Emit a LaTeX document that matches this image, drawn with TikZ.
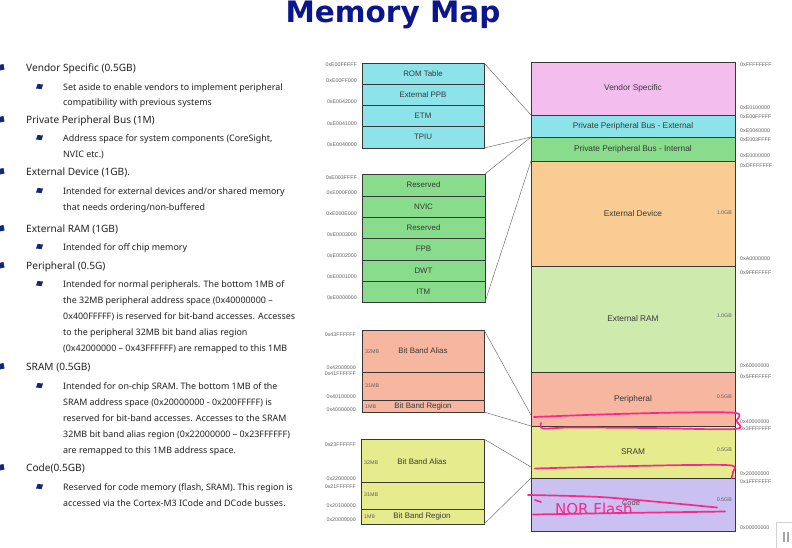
\documentclass[tikz,border=0pt]{standalone}
\usepackage{fontspec}
\setmainfont{Liberation Sans}
\newfontfamily\bodyfont{Noto Sans}
\newfontfamily\titlefont{DejaVu Sans}
\usetikzlibrary{calc}

\definecolor{cVendor}{RGB}{243,190,238}
\definecolor{cPPBext}{RGB}{140,228,234}
\definecolor{cPPBint}{RGB}{136,220,140}
\definecolor{cExtDev}{RGB}{248,204,146}
\definecolor{cExtRAM}{RGB}{206,234,172}
\definecolor{cPeriph}{RGB}{246,182,160}
\definecolor{cSRAM}{RGB}{230,236,142}
\definecolor{cCode}{RGB}{202,192,242}
\definecolor{navy}{RGB}{12,22,140}
\definecolor{bulnavy}{RGB}{20,40,120}
\definecolor{inkpink}{RGB}{250,40,140}
\definecolor{bodytext}{RGB}{34,34,34}

\newcommand\lvlA[3]{%
  \fill[bulnavy] (-1.5,#2-6.5) -- (3.5,#2-7.5) -- (4.5,#2-2) -- (-0.5,#2-1) -- cycle;
  \node[tA] (#1) at (26,#2) {#3};}
\newcommand\lvlB[3]{%
  \fill[bulnavy] (36,#2-1.5) -- (37.5,#2-6) -- (43,#2-5.5) -- (41.5,#2-1) -- cycle;
  \node[tB] (#1) at (63,#2) {#3};}
\newcommand\lvlC[3]{\node[tB] (#1) at (63,#2) {#3};}

\begin{document}
\begin{tikzpicture}[x=1pt,y=-1pt,
  reg/.style={draw=black!78, line width=0.6pt, inner sep=0pt, outer sep=0pt,
    anchor=north west, font=\fontsize{8.3}{9}\selectfont, text=black!78},
  sub/.style={reg, font=\fontsize{7.9}{9}\selectfont},
  addr/.style={font=\fontsize{5.3}{6}\selectfont, text=black!62, inner sep=0pt},
  conn/.style={draw=black!55, line width=0.5pt},
  ink/.style={draw=inkpink, line width=1.7pt, line cap=round, line join=round},
  tA/.style={anchor=base west, inner sep=0pt, text=bodytext, font=\bodyfont\fontsize{10.1}{11}\selectfont},
  tB/.style={anchor=base west, inner sep=0pt, text=bodytext, font=\bodyfont\fontsize{8.9}{10}\selectfont}]
\useasboundingbox (0,0) rectangle (792,547);
\fill[white] (0,0) rectangle (792,547);

% title
\node[anchor=base, inner sep=0pt, text=navy, font=\titlefont\bfseries\fontsize{29.5}{30}\selectfont] (title) at (393,22.5) {Memory Map};

% ---------------- left text ----------------
\lvlA{a1}{71.5}{Vendor Specific (0.5GB)}
\lvlB{b1}{90}{Set aside to enable vendors to implement peripheral}
\lvlC{c1}{105}{compatibility with previous systems}
\lvlA{a2}{123.5}{Private Peripheral Bus (1M)}
\lvlB{b2}{141}{Address space for system components (CoreSight,}
\lvlC{c2}{157}{NVIC etc.)}
\lvlA{a3}{175.5}{External Device (1GB).}
\lvlB{b3}{194}{Intended for external devices and/or shared memory}
\lvlC{c3}{210}{that needs ordering/non-buffered}
\lvlA{a4}{232.5}{External RAM (1GB)}
\lvlB{b4}{250}{Intended for off chip memory}
\lvlA{a5}{269.5}{Peripheral (0.5G)}
\lvlB{b5}{287}{Intended for normal peripherals. The bottom 1MB of}
\lvlC{c5a}{303}{the 32MB peripheral address space (0x40000000 –}
\lvlC{c5b}{319}{0x400FFFFF) is reserved for bit-band accesses. Accesses}
\lvlC{c5c}{335}{to the peripheral 32MB bit band alias region}
\lvlC{c5d}{351}{(0x42000000 – 0x43FFFFFF) are remapped to this 1MB}
\lvlA{a6}{370.5}{SRAM (0.5GB)}
\lvlB{b6}{389}{Intended for on-chip SRAM. The bottom 1MB of the}
\lvlC{c6a}{405}{SRAM address space (0x20000000 - 0x200FFFFF) is}
\lvlC{c6b}{421}{reserved for bit-band accesses. Accesses to the SRAM}
\lvlC{c6c}{437}{32MB bit band alias region (0x22000000 – 0x23FFFFFF)}
\lvlC{c6d}{453}{are remapped to this 1MB address space.}
\lvlA{a7}{471.5}{Code(0.5GB)}
\lvlB{b7}{490}{Reserved for code memory (flash, SRAM). This region is}
\lvlC{c7}{506}{accessed via the Cortex-M3 ICode and DCode busses.}

% ---------------- main map ----------------
\node[reg, fill=cVendor, minimum width=204pt, minimum height=53pt] (vendor) at (531,62) {Vendor Specific};
\node[reg, fill=cPPBext, minimum width=204pt, minimum height=22pt] (ppbext) at (531,115) {Private Peripheral Bus - External};
\node[reg, fill=cPPBint, minimum width=204pt, minimum height=24pt] (ppbint) at (531,137) {Private Peripheral Bus - Internal};
\node[reg, fill=cExtDev, minimum width=204pt, minimum height=105pt] (extdev) at (531,161) {External Device};
\node[reg, fill=cExtRAM, minimum width=204pt, minimum height=106pt] (extram) at (531,266) {External RAM};
\node[reg, fill=cPeriph, minimum width=204pt, minimum height=54pt] (periph) at (531,372) {Peripheral};
\node[reg, fill=cSRAM, minimum width=204pt, minimum height=52pt] (sram) at (531,426) {SRAM};
\node[reg, fill=cCode, minimum width=204pt, minimum height=53pt] (code) at (531,478) {};
\node[inner sep=0pt, font=\fontsize{7.5}{9}\selectfont, text=black!70] (codet) at (631,503) {Code};

\node[addr, anchor=east] (gb1) at (732,213) {1.0GB};
\node[addr, anchor=east] (gb2) at (732,316) {1.0GB};
\node[addr, anchor=east] (gb3) at (732,397) {0.5GB};
\node[addr, anchor=east] (gb4) at (732,450) {0.5GB};
\node[addr, anchor=east] (gb5) at (732,500) {0.5GB};

% right addresses
\foreach \y/\t [count=\i] in {65/0xFFFFFFFF,108/0xE0100000,117/0xE00FFFFF,131/0xE0040000,140/0xE003FFFF,156/0xE0000000,166/0xDFFFFFFF,259/0xA0000000,273/0x9FFFFFFF,366/0x60000000,377/0x5FFFFFFF,422/0x40000000,429/0x3FFFFFFF,474/0x20000000,482/0x1FFFFFFF,528/0x00000000}
  \node[addr, anchor=west] (ra\i) at (740,\y) {\t};

% ---------------- PPB external detail ----------------
\node[sub, fill=cPPBext, minimum width=122pt, minimum height=21pt] (rom) at (362,63) {ROM Table};
\node[sub, fill=cPPBext, minimum width=122pt, minimum height=21pt] (extppb) at (362,84) {External PPB};
\node[sub, fill=cPPBext, minimum width=122pt, minimum height=21pt] (etm) at (362,105) {ETM};
\node[sub, fill=cPPBext, minimum width=122pt, minimum height=22pt] (tpiu) at (362,126) {TPIU};
\foreach \y/\t [count=\i] in {65/0xE00FFFFF,81/0xE00FF000,102/0xE0042000,124/0xE0041000,145/0xE0040000}
  \node[addr, anchor=east] (la\i) at (357,\y) {\t};

% ---------------- PPB internal detail ----------------
\node[sub, fill=cPPBint, minimum width=123pt, minimum height=22pt] (res1) at (362,174) {Reserved};
\node[sub, fill=cPPBint, minimum width=123pt, minimum height=21pt] (nvic) at (362,196) {NVIC};
\node[sub, fill=cPPBint, minimum width=123pt, minimum height=21pt] (res2) at (362,217) {Reserved};
\node[sub, fill=cPPBint, minimum width=123pt, minimum height=22pt] (fpb) at (362,238) {FPB};
\node[sub, fill=cPPBint, minimum width=123pt, minimum height=21pt] (dwt) at (362,260) {DWT};
\node[sub, fill=cPPBint, minimum width=123pt, minimum height=21pt] (itm) at (362,281) {ITM};
\foreach \y/\t [count=\i] in {178/0xE003FFFF,193/0xE000F000,214/0xE000E000,235/0xE0003000,256/0xE0002000,277/0xE0001000,298/0xE0000000}
  \node[addr, anchor=east] (lb\i) at (357,\y) {\t};

% ---------------- Peripheral bit band ----------------
\node[sub, fill=cPeriph, minimum width=122pt, minimum height=42pt] (pba) at (362,330) {};
\node[sub, fill=cPeriph, minimum width=122pt, minimum height=28pt] (p31) at (362,372) {};
\node[sub, fill=cPeriph, minimum width=122pt, minimum height=12pt] (pbr) at (362,400) {};
\node[inner sep=0pt, font=\fontsize{7.9}{9}\selectfont, text=black!78] (pbat) at (423,351) {Bit Band Alias};
\node[inner sep=0pt, font=\fontsize{7.9}{9}\selectfont, text=black!78] (pbrt) at (423,406.5) {Bit Band Region};
\node[addr, anchor=west] (pm1) at (365,352) {32MB};
\node[addr, anchor=west] (pm2) at (365,386) {31MB};
\node[addr, anchor=west] (pm3) at (365,406.5) {1MB};
\foreach \y/\t [count=\i] in {335/0x43FFFFFF,368/0x42000000,374/0x41FFFFFF,397/0x40100000,410/0x40000000}
  \node[addr, anchor=east] (lc\i) at (356,\y) {\t};

% ---------------- SRAM bit band ----------------
\node[sub, fill=cSRAM, minimum width=123pt, minimum height=43pt] (sba) at (361,439) {};
\node[sub, fill=cSRAM, minimum width=123pt, minimum height=27pt] (s31) at (361,482) {};
\node[sub, fill=cSRAM, minimum width=123pt, minimum height=15pt] (sbr) at (361,509) {};
\node[inner sep=0pt, font=\fontsize{7.9}{9}\selectfont, text=black!78] (sbat) at (422,462) {Bit Band Alias};
\node[inner sep=0pt, font=\fontsize{7.9}{9}\selectfont, text=black!78] (sbrt) at (422,516.5) {Bit Band Region};
\node[addr, anchor=west] (sm1) at (364,463) {32MB};
\node[addr, anchor=west] (sm2) at (364,495) {31MB};
\node[addr, anchor=west] (sm3) at (364,516.5) {1MB};
\foreach \y/\t [count=\i] in {445/0x23FFFFFF,479/0x22000000,487/0x21FFFFFF,506/0x20100000,520/0x20000000}
  \node[addr, anchor=east] (ld\i) at (356,\y) {\t};

% ---------------- connectors ----------------
\coordinate (pbhi) at (531,415);
\coordinate (sbhi) at (531,467);
\draw[conn] (rom.north east) -- (ppbext.north west);
\draw[conn] (tpiu.south east) -- (ppbext.south west);
\draw[conn] (res1.north east) -- (ppbint.north west);
\draw[conn] (itm.south east) -- (ppbint.south west);
\draw[conn] (pba.north east) -- (pbhi);
\draw[conn] (pbr.south east) -- (periph.south west);
\draw[conn] (sba.north east) -- (sbhi);
\draw[conn] (sbr.south east) -- (sram.south west);

% ---------------- pink annotations ----------------
\draw[ink] plot[smooth, tension=0.5] coordinates {(534,417) (600,414.5) (680,412.5) (736,413) (736.5,421) (735,429) (650,428) (570,427.5) (543,428.5) (541,423)};
\draw[ink] plot[smooth, tension=0.5] coordinates {(535,468.5) (610,466.5) (690,465) (732,465.5) (733,472) (731.5,478)};
\draw[ink] plot[smooth, tension=0.5] coordinates {(528,495) (600,497) (670,503) (717,507.5)};
\draw[ink] plot[smooth, tension=0.5] coordinates {(533,514.5) (620,513) (725,511.5)};
\draw[ink] (535,500) -- (541,502);
\node[inner sep=0pt, anchor=base west, text=inkpink, font=\titlefont\fontsize{15}{16}\selectfont] (nor) at (555,514) {NOR Flash};

% ---------------- player overlay ----------------
\draw[black!18, fill=white] (776.5,522.5) rectangle (795,550);
\fill[black!35] (783,532) rectangle (784.5,542);
\fill[black!35] (787,532) rectangle (788.5,542);
\end{tikzpicture}
\end{document}
